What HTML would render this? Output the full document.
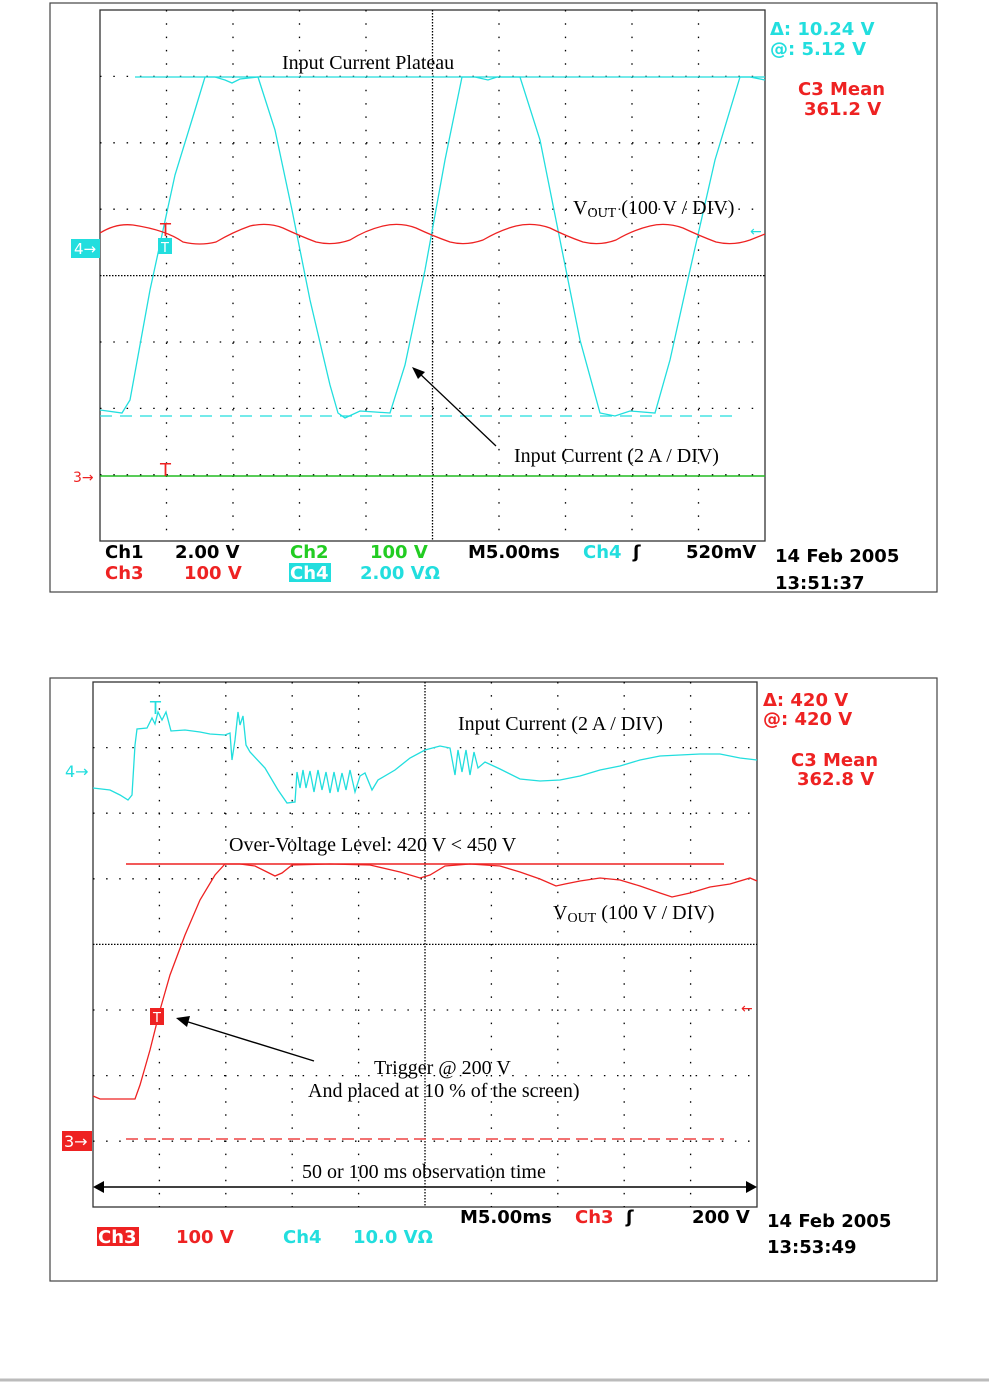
<!DOCTYPE html>
<html><head><meta charset="utf-8"><style>
body{margin:0;background:#fff;width:989px;height:1383px;overflow:hidden}
svg{position:absolute;left:0;top:0}
text{font-family:"DejaVu Sans","Liberation Sans",sans-serif}
.s{font-family:"Liberation Serif",serif;fill:#000;font-size:20px}
</style></head><body>
<svg width="989" height="1383" viewBox="0 0 989 1383">
<rect x="50" y="3" width="887" height="589" fill="none" stroke="#444" stroke-width="1.2"/>
<rect x="50" y="678" width="887" height="603" fill="none" stroke="#444" stroke-width="1.2"/>
<line x1="0" y1="1380" x2="989" y2="1380" stroke="#bbb" stroke-width="3"/>

<!-- TOP GRID -->
<g stroke="#000" stroke-width="1.3" fill="none">
<rect x="100" y="10" width="665" height="531" stroke="#333"/>
<g stroke-dasharray="1.5 11.8">
<line x1="166.5" y1="10" x2="166.5" y2="541"/><line x1="233" y1="10" x2="233" y2="541"/><line x1="299.5" y1="10" x2="299.5" y2="541"/><line x1="366" y1="10" x2="366" y2="541"/><line x1="499" y1="10" x2="499" y2="541"/><line x1="565.5" y1="10" x2="565.5" y2="541"/><line x1="632" y1="10" x2="632" y2="541"/><line x1="698.5" y1="10" x2="698.5" y2="541"/>
<line x1="100" y1="76.4" x2="765" y2="76.4"/><line x1="100" y1="142.8" x2="765" y2="142.8"/><line x1="100" y1="209.2" x2="765" y2="209.2"/><line x1="100" y1="342" x2="765" y2="342"/><line x1="100" y1="408.4" x2="765" y2="408.4"/><line x1="100" y1="474.8" x2="765" y2="474.8"/>
</g>
<g stroke-dasharray="1.5 1.5"><line x1="432.5" y1="10" x2="432.5" y2="541"/><line x1="100" y1="275.6" x2="765" y2="275.6"/></g>
</g>

<!-- top traces -->
<line x1="135" y1="77" x2="765" y2="77" stroke="#22dede" stroke-width="1.3"/>
<line x1="100" y1="416" x2="735" y2="416" stroke="#22dede" stroke-width="1.3" stroke-dasharray="12 8"/>
<polyline fill="none" stroke="#22dede" stroke-width="1.3" points="100,410 122,413 130,400 150,290 175,175 195,110 205,77 215,77 225,80 232,83 240,79 258,77 275,130 292,210 310,300 330,385 338,413 345,418 360,411 375,412 390,413 405,365 425,270 445,160 462,77 475,77 488,80 497,77 520,77 540,140 560,240 580,340 600,413 615,416 630,411 655,413 670,360 690,270 715,160 740,77 750,77 765,80"/>
<path fill="none" stroke="#ee2222" stroke-width="1.3" d="M100,233 Q116,223 133,225 Q166,230 183,242 Q200,246 216,242 Q233,232 250,226 Q268,222 283,228 Q300,236 316,242 Q333,246 350,240 Q366,230 383,226 Q400,222 416,228 Q433,236 450,242 Q466,246 483,240 Q500,230 516,226 Q533,222 550,228 Q566,236 583,242 Q600,246 616,240 Q633,230 650,226 Q666,222 683,228 Q700,236 716,242 Q733,246 750,240 L765,234"/>
<line x1="100" y1="476" x2="765" y2="476" stroke="#22bb22" stroke-width="1.5"/>
<text x="160" y="236" fill="#ee2222" font-size="18" font-family="Liberation Sans">T</text>
<rect x="158" y="238" width="14" height="16" fill="#22dede"/><text x="161" y="252" fill="#fff" font-size="13">T</text>
<text x="160" y="476" fill="#ee2222" font-size="18" font-family="Liberation Sans">T</text>
<rect x="71" y="239" width="29" height="19" fill="#22dede"/><text x="74" y="254" fill="#fff" font-size="15">4→</text>
<text x="73" y="482" fill="#ee2222" font-size="14">3→</text>
<text x="750" y="236" fill="#22dede" font-size="14">←</text>
<text x="282" y="69" class="s">Input Current Plateau</text>
<text x="573" y="214" class="s">V<tspan font-size="14" dy="3">OUT</tspan><tspan dy="-3"> (100 V / DIV)</tspan></text>
<text x="514" y="462" class="s">Input Current (2 A / DIV)</text>
<line x1="496" y1="446" x2="418" y2="372" stroke="#000" stroke-width="1.3"/>
<polygon points="412,367 425,372 418,379" fill="#000"/>
<g font-size="18" font-weight="bold">
<text x="770" y="35" fill="#22dede">Δ: 10.24 V</text>
<text x="770" y="55" fill="#22dede">@: 5.12 V</text>
<text x="798" y="95" fill="#ee2222">C3 Mean</text>
<text x="804" y="115" fill="#ee2222">361.2 V</text>
<text x="105" y="558" fill="#000">Ch1</text><text x="175" y="558" fill="#000">2.00 V</text>
<text x="290" y="558" fill="#22cc22">Ch2</text><text x="370" y="558" fill="#22cc22">100 V</text>
<text x="468" y="558" fill="#000">M5.00ms</text><text x="583" y="558" fill="#22dede">Ch4</text><text x="633" y="558" fill="#000">ʃ</text>
<text x="686" y="558" fill="#000">520mV</text>
<text x="105" y="579" fill="#ee2222">Ch3</text><text x="184" y="579" fill="#ee2222">100 V</text>
<rect x="289" y="563" width="42" height="19" fill="#22dede"/><text x="290" y="579" fill="#fff">Ch4</text>
<text x="360" y="579" fill="#22dede">2.00 VΩ</text>
<text x="775" y="562" fill="#000">14 Feb 2005</text>
<text x="775" y="589" fill="#000">13:51:37</text>
</g>

<!-- BOTTOM GRID -->
<g stroke="#000" stroke-width="1.3" fill="none">
<rect x="93" y="682" width="664" height="525" stroke="#333"/>
<g stroke-dasharray="1.5 11.6">
<line x1="159.4" y1="682" x2="159.4" y2="1207"/><line x1="225.8" y1="682" x2="225.8" y2="1207"/><line x1="292.2" y1="682" x2="292.2" y2="1207"/><line x1="358.6" y1="682" x2="358.6" y2="1207"/><line x1="491.4" y1="682" x2="491.4" y2="1207"/><line x1="557.8" y1="682" x2="557.8" y2="1207"/><line x1="624.2" y1="682" x2="624.2" y2="1207"/><line x1="690.6" y1="682" x2="690.6" y2="1207"/>
<line x1="93" y1="747.6" x2="757" y2="747.6"/><line x1="93" y1="813.2" x2="757" y2="813.2"/><line x1="93" y1="878.8" x2="757" y2="878.8"/><line x1="93" y1="1010" x2="757" y2="1010"/><line x1="93" y1="1075.6" x2="757" y2="1075.6"/><line x1="93" y1="1141.2" x2="757" y2="1141.2"/>
</g>
<g stroke-dasharray="1.5 1.5"><line x1="425" y1="682" x2="425" y2="1207"/><line x1="93" y1="944.4" x2="757" y2="944.4"/></g>
</g>
<polyline fill="none" stroke="#22dede" stroke-width="1.3" points="93,788 110,790 120,795 128,800 132,795 135,745 137,729 147,728 152,718 155,724 158,712 162,720 166,712 171,731 185,730 200,732 210,734 225,735 230,733 232,760 235,740 238,712 240,725 243,716 246,745 250,752 265,768 278,790 287,803 295,802 297,772 300,788 303,770 306,788 310,771 314,792 318,770 322,790 326,772 330,793 334,772 338,792 342,773 346,790 350,770 355,792 360,776 365,773 372,790 378,780 395,770 410,758 425,750 440,746 450,748 455,775 458,750 462,772 466,750 470,775 474,752 478,768 485,762 500,769 520,779 540,781 560,780 580,776 600,770 620,766 640,760 660,756 680,755 700,754 720,754 740,758 757,760"/>
<line x1="126" y1="864" x2="724" y2="864" stroke="#ee2222" stroke-width="1.5"/>
<polyline fill="none" stroke="#ee2222" stroke-width="1.3" points="93,1096 100,1099 115,1099 135,1099 140,1085 150,1050 160,1010 170,975 185,935 200,900 215,875 225,864 240,864 255,866 265,871 275,876 282,873 292,865 330,864 370,865 400,872 420,878 430,875 445,866 470,864 500,866 520,872 540,879 556,886 565,884 580,881 600,878 620,880 640,886 660,893 672,897 690,893 710,887 730,884 750,878 757,881"/>
<rect x="150" y="1008" width="14" height="17" fill="#ee2222"/><text x="153" y="1022" fill="#fff" font-size="13">T</text>
<text x="150" y="714" fill="#22dede" font-size="18" font-family="Liberation Sans">T</text>
<line x1="126" y1="1139" x2="724" y2="1139" stroke="#ee4444" stroke-width="1.6" stroke-dasharray="12 6"/>
<text x="65" y="777" fill="#22dede" font-size="16">4→</text>
<rect x="62" y="1131" width="30" height="20" fill="#ee2222"/><text x="64" y="1147" fill="#fff" font-size="16">3→</text>
<text x="741" y="1013" fill="#ee2222" font-size="14">←</text>
<text x="458" y="730" class="s">Input Current (2 A / DIV)</text>
<text x="229" y="851" class="s">Over-Voltage Level: 420 V &lt; 450 V</text>
<text x="553" y="919" class="s">V<tspan font-size="14" dy="3">OUT</tspan><tspan dy="-3"> (100 V / DIV)</tspan></text>
<text x="374" y="1074" class="s">Trigger @ 200 V</text>
<text x="308" y="1097" class="s">And placed at 10 % of the screen)</text>
<text x="302" y="1178" class="s">50 or 100 ms observation time</text>
<line x1="314" y1="1061" x2="185" y2="1021" stroke="#000" stroke-width="1.4"/>
<polygon points="176,1018 190,1016 187,1027" fill="#000"/>
<line x1="100" y1="1187" x2="750" y2="1187" stroke="#000" stroke-width="1.5"/>
<polygon points="93,1187 104,1181 104,1193" fill="#000"/><polygon points="757,1187 746,1181 746,1193" fill="#000"/>
<g font-size="18" font-weight="bold">
<text x="763" y="706" fill="#ee2222">Δ: 420 V</text>
<text x="763" y="725" fill="#ee2222">@: 420 V</text>
<text x="791" y="766" fill="#ee2222">C3 Mean</text>
<text x="797" y="785" fill="#ee2222">362.8 V</text>
<text x="460" y="1223" fill="#000">M5.00ms</text><text x="575" y="1223" fill="#ee2222">Ch3</text><text x="626" y="1223" fill="#000">ʃ</text>
<text x="692" y="1223" fill="#000">200 V</text>
<rect x="97" y="1227" width="42" height="19" fill="#ee2222"/><text x="98" y="1243" fill="#fff">Ch3</text>
<text x="176" y="1243" fill="#ee2222">100 V</text>
<text x="283" y="1243" fill="#22dede">Ch4</text><text x="353" y="1243" fill="#22dede">10.0 VΩ</text>
<text x="767" y="1227" fill="#000">14 Feb 2005</text>
<text x="767" y="1253" fill="#000">13:53:49</text>
</g>
</svg>
</body></html>
